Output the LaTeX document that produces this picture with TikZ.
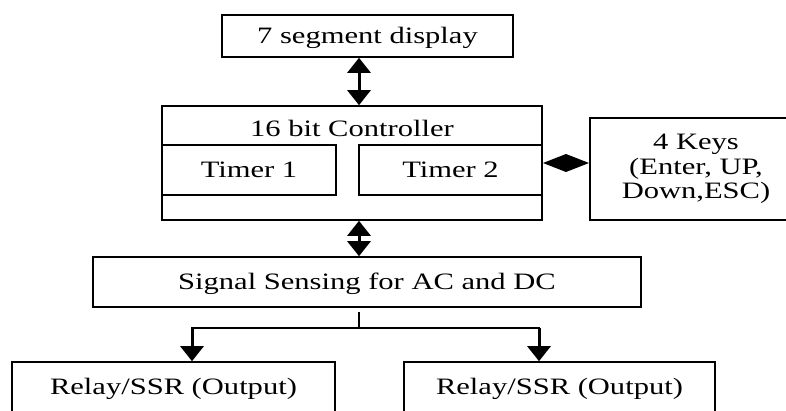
\documentclass[tikz,border=0pt]{standalone}
\usepackage{fontspec}
\setmainfont{Liberation Serif}[FakeStretch=1.3]
\usetikzlibrary{arrows.meta}
\begin{document}
\begin{tikzpicture}[x=1pt,y=-1pt,
  lbl/.style={inner sep=0pt, text height=15.6pt, text depth=0pt,
    font=\fontsize{23.5}{24.5}\selectfont},
  box/.style={lbl, draw, line width=1.6pt},
  multibox/.style={draw, line width=1.6pt, inner sep=0pt, align=center,
    font=\fontsize{23.5}{24.5}\selectfont},
  link/.style={line width=3pt},
  dbl/.style={{Triangle[length=15pt,width=23pt]}-{Triangle[length=15pt,width=23pt]}},
  down/.style={-{Triangle[length=15pt,width=23pt]}},
  side/.style={-{Triangle[length=23pt,width=17pt]}}]
\useasboundingbox (0,0) rectangle (786,410);
\clip (0,0) rectangle (786,410);

% blocks
\node[box, minimum width=291pt, minimum height=42pt] (seg) at (367.5,36) {7 segment display};
\node[box, minimum width=380pt, minimum height=114pt] (ctrl) at (352,163) {};
\node[lbl] (ctitle) at (352,129) {16 bit Controller};
\node[box, minimum width=174pt, minimum height=50pt] (t1) at (249,170) {Timer 1};
\node[box, minimum width=183pt, minimum height=50pt] (t2) at (450.5,170) {Timer 2};
\node[multibox, minimum width=212pt, minimum height=102pt] (keys) at (696,169)
  {4 Keys\\(Enter, UP,\\Down,ESC)};
\node[box, minimum width=548pt, minimum height=50pt] (sig) at (367,282) {Signal Sensing for AC and DC};
\node[box, minimum width=323pt, minimum height=50pt] (r1) at (173.5,387) {Relay/SSR (Output)};
\node[box, minimum width=311pt, minimum height=50pt] (r2) at (559.5,387) {Relay/SSR (Output)};

% connectors
\coordinate (ax) at (359,0);
\draw[link, dbl] (seg.south -| ax) -- (ctrl.north -| ax);
\draw[link, dbl] (ctrl.south -| ax) -- (sig.north -| ax);

\coordinate (km) at (566,163);
\draw[link, side] (km) -- (ctrl.east |- km);
\draw[link, side] (km) -- (keys.west |- km);

\coordinate (bj) at (359,328);
\coordinate (bl) at (192,328);
\coordinate (br) at (539,328);
\draw[line width=1.5pt] (sig.south -| ax) ++(0,4) -- (bj);
\draw[line width=2pt, line cap=rect] (bl) -- (br);
\draw[link, down] (bl) -- (r1.north -| bl);
\draw[link, down] (br) -- (r2.north -| br);
\end{tikzpicture}
\end{document}
